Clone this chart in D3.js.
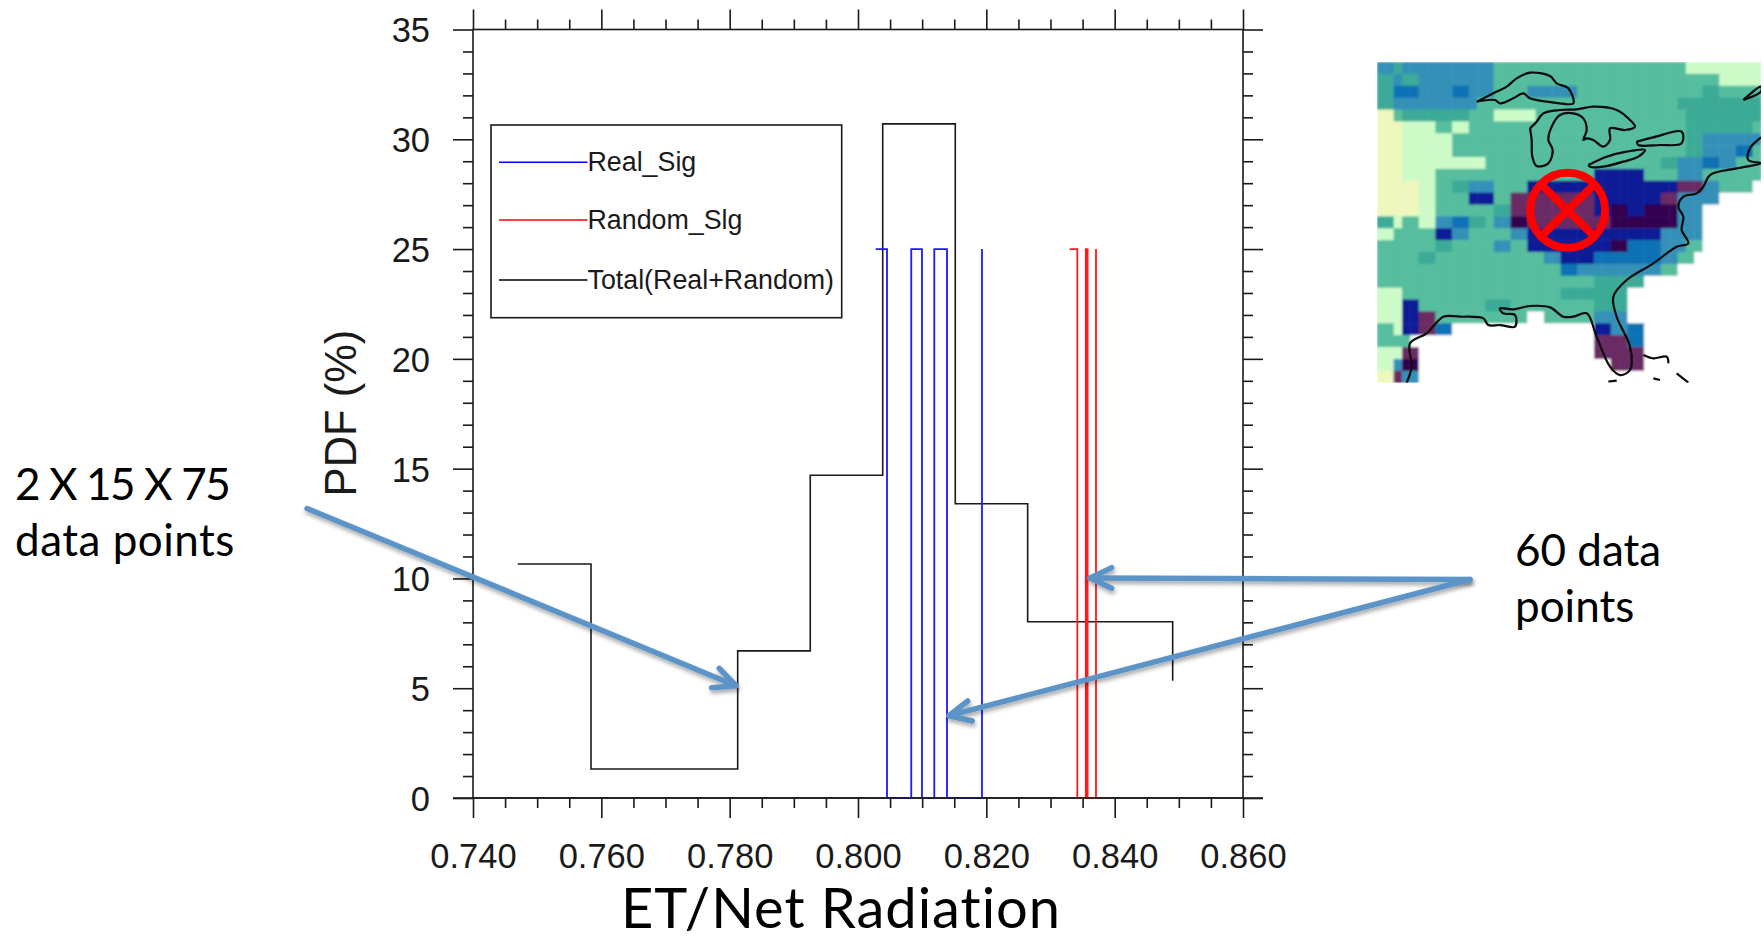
<!DOCTYPE html>
<html>
<head>
<meta charset="utf-8">
<script src="https://cdn.jsdelivr.net/npm/d3@7"></script>
<style>
	html, body { margin: 0; padding: 0; background: #fff; }
	svg { display: block; }
	.tick text { font-family: "Liberation Sans", sans-serif; }
</style>
</head>
<body>
<script>
// axis ticks
const xMajor = [0.74, 0.76, 0.78, 0.80, 0.82, 0.84, 0.86];
const xTickLabels = ["0.740", "0.760", "0.780", "0.800", "0.820", "0.840", "0.860"];
const yMajor = [0, 5, 10, 15, 20, 25, 30, 35];

// series (stepped, each y holds until the next x)
const totalX = [0.74697, 0.75839, 0.78125, 0.79256, 0.80385, 0.81516, 0.82644, 0.84904];
const totalY = [10.66, 1.32, 6.7, 14.7, 30.7, 13.4, 8.03, 5.34];
const realX = [0.80276, 0.80452, 0.8083, 0.80997, 0.81189, 0.81387, 0.81932, 0.81932];
const realY = [25, 0, 25, 0, 25, 0, 25, 0];
const randomX = [0.83299, 0.83418, 0.8355, 0.83578, 0.83709, 0.83709];
const randomY = [25, 0, 25, 0, 25, 0];

const legendLabels = ["Real_Sig", "Random_Slg", "Total(Real+Random)"];
const legendColors = ["#0000ff", "#ff0000", "#000000"];

// inset map cells, run length coded per row (letter + number of cells)
const mapRows = [
	"e2d1e11c23b9",
	"d2e1d2e9c27b5",
	"d2f3e4f2e3c4e6c15d2c5",
	"d2e10c24d10",
	"a2c1d8c3b5c18d9",
	"a3b4c2b2c26d8c1",
	"a3b6c28d2e7",
	"a3b6c28d2e4f2c1",
	"a3b10c21d2e3f2e2c3",
	"a3b4c19g6c4e3c7",
	"a5b2c2d2e3c4g18h3e2c4w1",
	"a5b2c4g3c2h10g8h2e5w5",
	"a5b2c7d2h10g2i2g2i4e3w7",
	"d2b1c2b2e2f2d2c1e2i2h10i8e3w7",
	"b2c5g2e2c5e2g16e5w7",
	"c7d2c5e2c2g10i2f4e3c2w7",
	"c5d2c13e2g4f8e2c2w8",
	"c22f2e10c2w10",
	"c26d6w14",
	"b3c19d8w16",
	"b3g2c8d3c10d4w16",
	"b3g2h2c11w2c6e4w16",
	"c2b1g2h2f2w17g2e2f2w14",
	"c4w22h4f2w14",
	"b3h2w21h6w14",
	"b2e1i2w23h4w14",
	"a2h1e2w41"
];
const mapCodes = ["a", "b", "c", "d", "e", "f", "g", "h", "i", "w"];
const mapColors = ["#eef7bd", "#ccfbc8", "#56bd9e", "#3baa97", "#3690b8", "#0b72b5", "#0c1a96", "#6a2a64", "#32054f", "#ffffff"];

// coastlines in the inset's own units
const coastLines = [
	[[350,155],[400,130],[440,110],[470,85],[510,68],[570,78],[590,100],[625,115],[640,160],[600,160],[560,155],[510,145],[490,130],[460,145],[420,160],[405,150],[350,155]],
	[[510,235],[530,215],[550,190],[600,180],[650,178],[700,170],[770,180],[810,210],[825,230],[795,240],[750,235],[750,270],[730,290],[700,270],[680,265],[670,270],[680,240],[670,205],[640,190],[600,195],[575,230],[565,270],[578,300],[565,340],[530,348],[517,320],[515,270],[510,235]],
	[[685,345],[740,320],[800,305],[855,300],[835,320],[790,335],[730,350],[690,350],[685,345]],
	[[830,275],[880,262],[965,245],[965,280],[900,285],[835,285],[830,275]],
	[[1150,150],[1203,110],[1203,125],[1150,150]],
	[[1203,262],[1170,295],[1165,330],[1203,340],[1130,355],[1050,375],[1030,410],[1010,430],[970,440],[955,470],[970,500],[965,540],[985,580],[950,590],[880,640],[800,690],[760,740],[770,800],[810,890],[810,960],[780,975],[750,950],[710,860],[680,790],[640,800],[610,800],[570,772],[510,768],[460,778],[420,775],[430,790],[465,795],[465,830],[420,825],[385,825],[370,805],[300,800],[250,800],[200,850],[150,880],[155,950],[140,998]],
	[[850,915],[880,925],[920,920],[925,940]],
	[[745,995],[770,992]],
	[[880,985],[900,990]],
	[[950,970],[985,998]]
];

const size_graph = {x: 1764, y: 940};
const plot = {left: 473, right: 1243, top: 29.5, bot: 798};

const svg = d3.select("body").append("svg")
	.attr("width", size_graph.x)
	.attr("height", size_graph.y);

const defs = svg.append("defs");
const shadow = defs.append("filter").attr("id", "arrowShadow")
	.attr("filterUnits", "userSpaceOnUse")
	.attr("x", 0).attr("y", 0).attr("width", size_graph.x).attr("height", size_graph.y);
shadow.append("feDropShadow").attr("dx", 1).attr("dy", 3).attr("stdDeviation", 2)
	.attr("flood-color", "#000").attr("flood-opacity", 0.35);
defs.append("filter").attr("id", "mapBlur")
	.append("feGaussianBlur").attr("stdDeviation", 1.2);
defs.append("filter").attr("id", "coastBlur")
	.attr("filterUnits", "userSpaceOnUse")
	.attr("x", 1370).attr("y", 55).attr("width", 394).attr("height", 335)
	.append("feGaussianBlur").attr("stdDeviation", 0.4);

const x = d3.scaleLinear().domain([0.74, 0.86]).range([plot.left, plot.right]);
const y = d3.scaleLinear().domain([0, 35]).range([plot.bot, plot.top]);

const xMinor = d3.range(0, 25).map(i => 0.74 + i * 0.005).filter(v => !xMajor.some(m => Math.abs(m - v) < 1e-6));
const yMinor = d3.range(0, 36).filter(v => v % 5 !== 0);

let styleAxis = function (g) {
	g.selectAll("path, line").attr("stroke", "#1a1a1a").attr("stroke-width", 1.6);
	g.select(".domain").remove();
};

// major and minor ticks on all four sides, outward
let addAxis = function (axisFn, scale, transform, major, minor, labels) {
	svg.append("g").attr("transform", transform)
		.call(axisFn(scale).tickValues(minor).tickSize(10).tickFormat(""))
		.call(styleAxis);
	let maj = axisFn(scale).tickValues(major).tickSize(20).tickPadding(14);
	maj.tickFormat(labels ? labels : "");
	return svg.append("g").attr("transform", transform).call(maj).call(styleAxis);
};

let xAxisG = addAxis(d3.axisBottom, x, `translate(0,${plot.bot})`, xMajor, xMinor, (d, i) => xTickLabels[i]);
addAxis(d3.axisTop, x, `translate(0,${plot.top})`, xMajor, xMinor, null);
let yAxisG = addAxis(d3.axisLeft, y, `translate(${plot.left},0)`, yMajor, yMinor, d => d);
addAxis(d3.axisRight, y, `translate(${plot.right},0)`, yMajor, yMinor, null);

xAxisG.selectAll("text").attr("font-size", 34.5).attr("fill", "#1a1a1a").attr("dy", 0).attr("y", 70);
yAxisG.selectAll("text").attr("font-size", 34.5).attr("fill", "#1a1a1a").attr("x", -43).attr("dy", "0.36em");

svg.append("rect")
	.attr("x", plot.left).attr("y", plot.top)
	.attr("width", plot.right - plot.left).attr("height", plot.bot - plot.top)
	.attr("fill", "none").attr("stroke", "#1a1a1a").attr("stroke-width", 1.6);

// series
const stepLine = d3.line().x(d => x(d[0])).y(d => y(d[1])).curve(d3.curveStepAfter);
svg.append("path").datum(d3.zip(totalX, totalY))
	.attr("d", stepLine).attr("fill", "none").attr("stroke", "#1a1a1a").attr("stroke-width", 1.6);
svg.append("path").datum(d3.zip(realX, realY))
	.attr("d", stepLine).attr("fill", "none").attr("stroke", "#1a1aff").attr("stroke-width", 1.8);
svg.append("path").datum(d3.zip(randomX, randomY))
	.attr("d", stepLine).attr("fill", "none").attr("stroke", "#ff1a1a").attr("stroke-width", 1.8);

// axis line is drawn again over the zero part of the steps
svg.append("line")
	.attr("x1", plot.left - 20).attr("x2", plot.right + 20)
	.attr("y1", plot.bot).attr("y2", plot.bot)
	.attr("stroke", "#1a1a1a").attr("stroke-width", 1.6);

// legend
svg.append("rect")
	.attr("x", 491).attr("y", 125).attr("width", 350.7).attr("height", 192.7)
	.attr("fill", "none").attr("stroke", "#1a1a1a").attr("stroke-width", 1.6);
const legendY = [162.3, 220, 280];
legendLabels.forEach(function (name, i) {
	svg.append("line")
		.attr("x1", 499).attr("x2", 587.5)
		.attr("y1", legendY[i]).attr("y2", legendY[i])
		.attr("stroke", legendColors[i]).attr("stroke-width", 1.6);
	svg.append("text")
		.attr("x", 587.5).attr("y", legendY[i] + 8.5)
		.attr("font-family", "Liberation Sans").attr("font-size", 26.8).attr("fill", "#1a1a1a")
		.text(name);
});

// axis titles
svg.append("text")
	.attr("transform", `translate(356,413) rotate(-90)`)
	.attr("text-anchor", "middle")
	.attr("font-family", "Liberation Sans").attr("font-size", 43.5).attr("fill", "#1a1a1a")
	.text("PDF (%)");
svg.append("text")
	.attr("x", 841).attr("y", 928)
	.attr("text-anchor", "middle")
	.attr("font-family", "Lato").attr("font-size", 56).attr("letter-spacing", 1).attr("fill", "#000")
	.text("ET/Net Radiation");

// annotations
let addText = function (txt, px, py, spacing) {
	svg.append("text").attr("x", px).attr("y", py)
		.attr("font-family", "Lato").attr("font-size", 44).attr("letter-spacing", spacing).attr("fill", "#000")
		.text(txt);
};
addText("2 X 15 X 75", 15, 500, -1.4);
addText("data points", 15, 556, 0.5);
addText("60 data", 1515, 566, 0);
addText("points", 1515, 622, 0);

const arrowColor = "#5c94c8";
let addArrow = function (from, to, barbA, barbB) {
	const g = svg.append("g")
		.attr("fill", "none").attr("stroke", arrowColor).attr("stroke-width", 5.5)
		.attr("stroke-linecap", "round").attr("stroke-linejoin", "round")
		.attr("filter", "url(#arrowShadow)");
	g.append("path").attr("d", d3.line()([from, to]));
	g.append("path").attr("d", d3.line()([barbA, to, barbB]));
};
addArrow([307, 508.5], [736, 685.7], [719.3, 668.3], [711.7, 687.7]);
addArrow([1470, 579.5], [1090, 578], [1111.7, 567.7], [1111.7, 588.3]);
addArrow([1470, 579.5], [949, 715.7], [967.7, 701], [972.3, 721]);

// inset map
const decoded = mapRows.map(function (row) {
	let cells = [];
	for (const m of row.matchAll(/([a-z])(\d+)/g))
		for (let i = 0; i < +m[2]; i++) cells.push(m[1]);
	return cells;
});
const mapBox = {x0: 1377, x1: 1761, y0: 62, y1: 382.7};
const colBand = d3.scaleBand().domain(d3.range(46)).range([mapBox.x0, mapBox.x1]);
const rowBand = d3.scaleBand().domain(d3.range(mapRows.length)).range([mapBox.y0, mapBox.y1]);
const cellColor = d3.scaleOrdinal().domain(mapCodes).range(mapColors);

const clip = defs.append("clipPath").attr("id", "mapClip");
clip.append("rect").attr("x", mapBox.x0).attr("y", mapBox.y0)
	.attr("width", mapBox.x1 - mapBox.x0).attr("height", mapBox.y1 - mapBox.y0);

const mapG = svg.append("g").attr("clip-path", "url(#mapClip)");
const cellsG = mapG.append("g").attr("filter", "url(#mapBlur)");
decoded.forEach(function (cells, r) {
	cellsG.selectAll(".r" + r)
		.data(cells)
		.enter()
		.append("rect")
		.attr("class", "r" + r)
		.attr("x", (d, i) => colBand(i))
		.attr("y", rowBand(r))
		.attr("width", colBand.bandwidth() + 0.5)
		.attr("height", rowBand.bandwidth() + 0.5)
		.attr("fill", d => cellColor(d));
});

const mapX = d3.scaleLinear().domain([51, 1203]).range([mapBox.x0, mapBox.x1]);
const mapY = d3.scaleLinear().domain([36, 998]).range([mapBox.y0, mapBox.y1]);
const coast = d3.line().x(d => mapX(d[0])).y(d => mapY(d[1])).curve(d3.curveCatmullRom.alpha(0.5));
mapG.append("g").attr("filter", "url(#coastBlur)")
	.selectAll(".coast")
	.data(coastLines)
	.enter()
	.append("path")
	.attr("class", "coast")
	.attr("d", coast)
	.attr("fill", "none").attr("stroke", "#0a0a0a").attr("stroke-width", 2.2)
	.attr("stroke-linejoin", "round");

// no-go mark on the map
const markG = svg.append("g").attr("fill", "none").attr("stroke", "#ff0000").attr("stroke-width", 8);
markG.append("circle")
	.attr("cx", mapX(623)).attr("cy", mapY(481)).attr("r", 37.5);
markG.append("path").attr("d", d3.line()([[mapX(543), mapY(403)], [mapX(703), mapY(559)]]));
markG.append("path").attr("d", d3.line()([[mapX(703), mapY(403)], [mapX(543), mapY(559)]]));
</script>
</body>
</html>
